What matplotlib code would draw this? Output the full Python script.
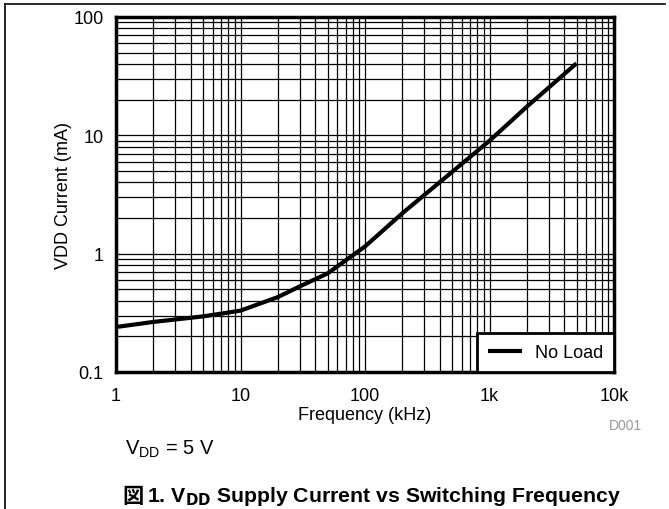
import matplotlib
matplotlib.use("Agg")
import matplotlib.pyplot as plt
from matplotlib.ticker import LogLocator, FixedLocator, NullFormatter
from matplotlib.lines import Line2D

plt.rcParams['font.family'] = ['Liberation Sans', 'Noto Sans CJK JP', 'DejaVu Sans']

freq_khz = [1, 2, 5, 10, 20, 30, 50, 100, 200, 500, 1000, 2000, 5000]
current_ma = [0.24, 0.265, 0.295, 0.33, 0.43, 0.53, 0.68, 1.15, 2.2, 4.9, 9.0, 17.5, 40.6]
x_ticks = [1, 10, 100, 1000, 10000]
x_ticklabels = ["1", "10", "100", "1k", "10k"]
y_ticks = [0.1, 1, 10, 100]
y_ticklabels = ["0.1", "1", "10", "100"]

fig = plt.figure(figsize=(6.69, 5.10), dpi=100)
ax = fig.add_axes([116/669, 1-373/510, (614-116)/669, (373-18)/510])

ax.plot(freq_khz, current_ma, color='black', lw=3, label='No Load', solid_capstyle='butt', zorder=3)
ax.set_xscale('log')
ax.set_yscale('log')
ax.set_xlim(1, 10000)
ax.set_ylim(0.1, 100)

ax.xaxis.set_major_locator(FixedLocator(x_ticks))
ax.set_xticklabels(x_ticklabels)
ax.yaxis.set_major_locator(FixedLocator(y_ticks))
ax.set_yticklabels(y_ticklabels)
ax.xaxis.set_minor_locator(LogLocator(base=10, subs=range(2, 10), numticks=20))
ax.yaxis.set_minor_locator(LogLocator(base=10, subs=range(2, 10), numticks=20))
ax.xaxis.set_minor_formatter(NullFormatter())
ax.yaxis.set_minor_formatter(NullFormatter())

ax.grid(True, which='both', color='black', lw=0.9)
ax.tick_params(which='both', length=0, labelsize=13)
ax.tick_params(axis='x', pad=11)
ax.tick_params(axis='y', pad=9)
for s in ax.spines.values():
    s.set_linewidth(2.5)
    s.set_zorder(4)

ax.set_xlabel('Frequency (kHz)', fontsize=13, labelpad=1)
ax.set_ylabel('VDD Current (mA)', fontsize=13, labelpad=1)

leg = ax.legend(loc='lower right', fontsize=13, frameon=True, fancybox=False,
                borderaxespad=0, handlelength=1.9, borderpad=0.6, handletextpad=0.7)
leg.get_frame().set_edgecolor('black')
leg.get_frame().set_linewidth(2)
leg.get_frame().set_alpha(1)
leg.set_zorder(5)

fig.text(642/669, 1-426/510, 'D001', color='#999999', fontsize=10, ha='right', va='center')
fig.text(125/669, 1-449/510, r'V$_{\mathregular{DD}}$ = 5 V', fontsize=14.5, ha='left', va='center')
fig.text(122/669, 1-497/510, '図', fontsize=15.3, fontweight='bold', ha='left', va='center',
         family=['Noto Sans CJK JP'])
fig.text(147/669, 1-497/510, r'1. V$_{\mathregular{\bf DD}}$ Supply Current vs Switching Frequency',
         fontsize=15.3, fontweight='bold', ha='left', va='center')

fig.add_artist(Line2D([5/669, 5/669], [0, 1-5/510], color='black', lw=1.2, transform=fig.transFigure))
fig.add_artist(Line2D([5/669, 665/669], [1-5/510, 1-5/510], color='black', lw=1.2, transform=fig.transFigure))

fig.savefig('out.png', dpi=100)
